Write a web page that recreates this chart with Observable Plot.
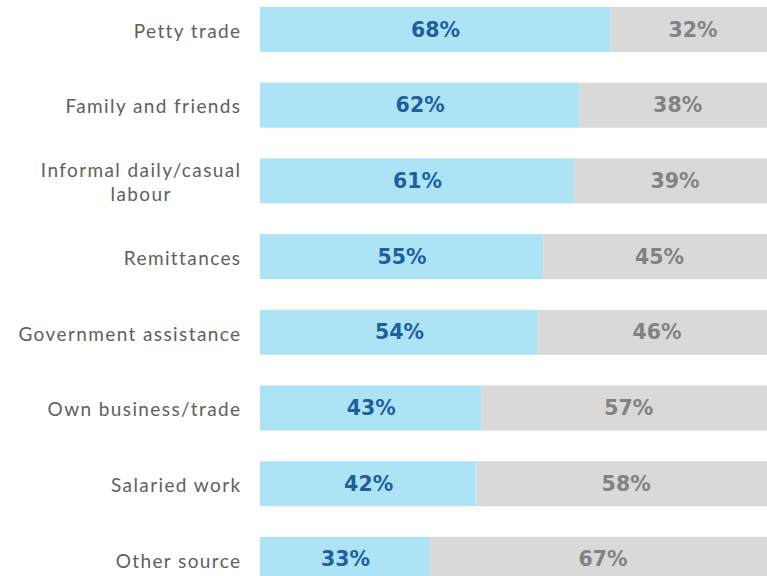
<!DOCTYPE html>
<html>
<head>
<meta charset="utf-8">
<script src="https://cdn.jsdelivr.net/npm/d3@7"></script>
<script src="https://cdn.jsdelivr.net/npm/@observablehq/plot@0.6"></script>
<style>
  html, body { margin: 0; padding: 0; background: #fff; overflow: hidden; }
  #chart { width: 767px; height: 576px; overflow: hidden; }
</style>
</head>
<body>
<div id="chart"></div>
<script>
const categories = [
  "Petty trade",
  "Family and friends",
  "Informal daily/casual\nlabour",
  "Remittances",
  "Government assistance",
  "Own business/trade",
  "Salaried work",
  "Other source"
];
const yesValues = [68, 62, 61, 55, 54, 43, 42, 33];
const noValues  = [32, 38, 39, 45, 46, 57, 58, 67];
const groups = ["yes", "no"];
const barColors = {yes: "#ade4f5", no: "#d9d9d9"};
const textColors = {yes: "#1e5f9f", no: "#828282"};

const rows = [];
categories.forEach((c, i) => {
  rows.push({category: c, group: "yes", value: yesValues[i]});
  rows.push({category: c, group: "no", value: noValues[i]});
});

const plot = Plot.plot({
  width: 767,
  height: 576,
  marginLeft: 260,
  marginRight: 0,
  marginTop: 0,
  marginBottom: 0,
  style: {fontFamily: "Lato, 'Open Sans', sans-serif", background: "#fff"},
  x: {domain: [0, 100], range: [260, 775], axis: null},
  y: {domain: categories, range: [-23.7, 612.6], padding: 0.405, round: false, label: null},
  marks: [
    Plot.barX(rows, {
      x: "value",
      y: "category",
      z: "group",
      order: groups,
      fill: d => barColors[d.group]
    }),
    Plot.text(rows, Plot.stackX({
      x: "value",
      y: "category",
      z: "group",
      order: groups,
      text: d => d.value + "%",
      fill: d => textColors[d.group],
      fontFamily: "'DejaVu Sans', sans-serif",
      fontSize: 20.5,
      fontWeight: "bold",
      style: "letter-spacing: 1px"
    })),
    Plot.axisY({
      tickSize: 0,
      tickPadding: 19,
      fontSize: 19,
      lineHeight: 1.27,
      fill: "#606060"
    })
  ]
});

document.getElementById("chart").appendChild(plot);

// wider letter spacing for the category labels; centre multi-line labels within their block
plot.querySelectorAll('g[aria-label="y-axis tick label"] text').forEach(t => {
  t.style.letterSpacing = "1.4px";
  const spans = t.querySelectorAll("tspan");
  if (spans.length > 1) {
    const w = t.getBBox().width;
    t.setAttribute("text-anchor", "middle");
    spans.forEach(s => s.setAttribute("x", String(-w / 2)));
  }
});
</script>
</body>
</html>
